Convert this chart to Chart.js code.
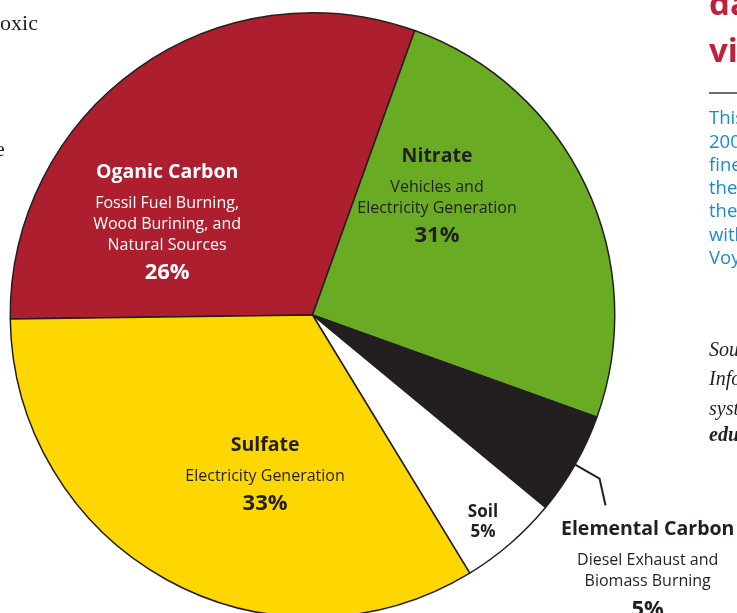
<!DOCTYPE html>
<html>
<head>
<meta charset="utf-8">
<script src="https://cdn.jsdelivr.net/npm/chart.js@4.4.1/dist/chart.umd.min.js"></script>
<style>
  html, body { margin: 0; padding: 0; background: #fff; overflow: hidden; }
  #page { position: relative; width: 737px; height: 613px; overflow: hidden; }
  #page canvas { position: absolute; left: 0; top: 0; }
  .frag { position: absolute; white-space: nowrap; }
  .serif { font-family: "Liberation Serif", "DejaVu Serif", serif; color: #231f20; font-size: 22px; line-height: 22px; }
  .head { font-family: "Open Sans", sans-serif; font-weight: 700; color: #c1203a; font-size: 33px; line-height: 33px; }
  .blue { font-family: "Open Sans", sans-serif; color: #1a8ad0; font-size: 18.5px; line-height: 18px; }
  .src { font-family: "Liberation Serif", serif; font-style: italic; color: #231f20; font-size: 20px; line-height: 20px; }
  .rule { position: absolute; left: 709px; top: 92px; width: 40px; height: 2px; background: #6d6e71; }
</style>
</head>
<body>
<div id="page">
  <canvas id="pie" width="737" height="630"></canvas>

  <!-- bits of the surrounding page -->
  <div class="frag serif" style="left:-6px; top:12px;">toxic</div>
  <div class="frag serif" style="left:-22px; top:138px;">the</div>

  <div class="frag head" style="left:709px; top:-14px;">da</div>
  <div class="frag head" style="left:709px; top:33px;">vi</div>
  <div class="rule"></div>
  <div class="frag blue" style="left:709px; top:108px;">This</div>
  <div class="frag blue" style="left:709px; top:132px;">2002</div>
  <div class="frag blue" style="left:709px; top:155px;">fine</div>
  <div class="frag blue" style="left:709px; top:178px;">the</div>
  <div class="frag blue" style="left:709px; top:201px;">the</div>
  <div class="frag blue" style="left:709px; top:225px;">with</div>
  <div class="frag blue" style="left:709px; top:248px;">Voy</div>
  <div class="frag src" style="left:709px; top:339px;">Source</div>
  <div class="frag src" style="left:709px; top:368px;">Info</div>
  <div class="frag src" style="left:709px; top:398px;">system</div>
  <div class="frag src" style="left:709px; top:424px; font-weight:700;">edu</div>
</div>

<script>
// slices, clockwise from the left edge of the pie
const categories = ["Oganic Carbon", "Nitrate", "Elemental Carbon", "Soil", "Sulfate"];
const shares = [30.7, 25.0, 5.5, 5.3, 33.5];
const printedPct = ["26%", "31%", "5%", "5%", "33%"];
const sources = [
  ["Fossil Fuel Burning,", "Wood Burining, and", "Natural Sources"],
  ["Vehicles and", "Electricity Generation"],
  ["Diesel Exhaust and", "Biomass Burning"],
  [],
  ["Electricity Generation"]
];
const sliceColors = ["#ad1e2f", "#6aab24", "#231f20", "#ffffff", "#fed600"];

// where each text block sits, as fractions of the radius from the centre
const labelSpots = [
  { dx: -0.481, dy: -0.473, color: "#ffffff" },
  { dx: 0.412, dy: -0.526, color: "#231f20" },
  { dx: 1.109, dy: 0.711, color: "#231f20" },
  { dx: 0.564, dy: 0.651, color: "#231f20", small: true },
  { dx: -0.157, dy: 0.430, color: "#231f20" }
];

const sliceLabels = {
  id: "sliceLabels",
  afterDraw(chart) {
    const ctx = chart.ctx;
    const arcs = chart.getDatasetMeta(0).data;
    const cx = arcs[0].x, cy = arcs[0].y, r = arcs[0].outerRadius;

    // leader line for elemental carbon
    const ec = arcs[2];
    const mid = (ec.startAngle + ec.endAngle) / 2;
    ctx.save();
    ctx.strokeStyle = "#231f20";
    ctx.lineWidth = 2;
    ctx.beginPath();
    ctx.moveTo(cx + Math.cos(mid) * (r - 3), cy + Math.sin(mid) * (r - 3));
    const ex = cx + Math.cos(mid) * r * 1.093, ey = cy + Math.sin(mid) * r * 1.093;
    ctx.lineTo(ex, ey);
    ctx.lineTo(ex + 6, ey + 27);
    ctx.stroke();
    ctx.restore();

    ctx.save();
    ctx.textAlign = "center";
    ctx.textBaseline = "middle";
    const font = "'Open Sans', sans-serif";
    categories.forEach((name, i) => {
      const spot = labelSpots[i];
      const x = cx + spot.dx * r;
      let y = cy + spot.dy * r;
      ctx.fillStyle = spot.color;
      if (spot.small) {
        ctx.font = "bold 17px " + font;
        ctx.fillText(name, x, y);
        ctx.fillText(printedPct[i], x, y + 20);
        return;
      }
      ctx.font = "bold 19.5px " + font;
      ctx.fillText(name, x, y);
      y += 31;
      ctx.font = "16px " + font;
      sources[i].forEach((line, k) => {
        if (k > 0) y += 21;
        ctx.fillText(line, x, y);
      });
      y += 28;
      ctx.font = "bold 22px " + font;
      ctx.fillText(printedPct[i], x, y);
    });
    ctx.restore();
  }
};

new Chart(document.getElementById("pie"), {
  type: "pie",
  data: {
    labels: categories,
    datasets: [
      {
        data: shares,
        backgroundColor: sliceColors,
        borderColor: "#231f20",
        borderWidth: 1.5,
      },
    ],
  },
  options: {
    responsive: false,
    animation: false,
    rotation: 269.25,
    layout: {
      padding: { left: 9, right: 121, top: 12, bottom: 12 }
    },
    plugins: {
      legend: { display: false },
      title: { display: false },
      tooltip: { enabled: false },
    },
  },
  plugins: [sliceLabels],
});
</script>
</body>
</html>
